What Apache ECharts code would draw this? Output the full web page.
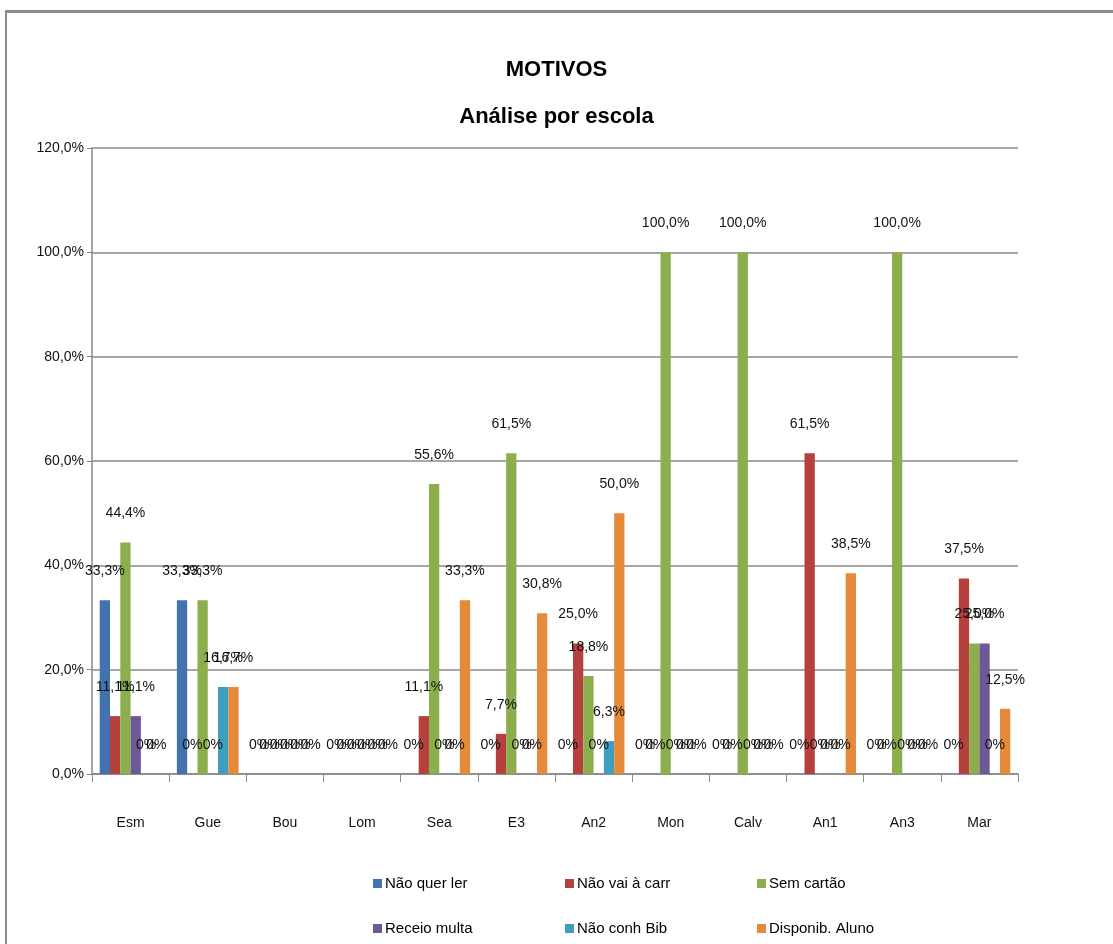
<!DOCTYPE html>
<html><head><meta charset="utf-8">
<script src="https://cdn.jsdelivr.net/npm/echarts@6/dist/echarts.min.js"></script>
<style>
html,body{margin:0;padding:0;background:#fff;}
#frame{position:absolute;left:5px;top:10px;width:1120px;height:950px;border-top:3px solid #8c8c8c;border-left:2px solid #8c8c8c;}
#c{position:absolute;left:0;top:0;width:1113px;height:944px;}
</style></head>
<body>
<div id="frame"></div>
<div id="c"></div>
<script>
const categories = ['Esm','Gue','Bou','Lom','Sea','E3','An2','Mon','Calv','An1','An3','Mar'];
const seriesNames = ['Não quer ler','Não vai à carr','Sem cartão','Receio multa','Não conh Bib','Disponib. Aluno'];
const naoQuerLer   = [33.3, 33.3, 0, 0, 0,    0,    0,    0,   0,   0,    0,   0];
const naoVaiCarr   = [11.1, 0,    0, 0, 11.1, 7.7,  25.0, 0,   0,   61.5, 0,   37.5];
const semCartao    = [44.4, 33.3, 0, 0, 55.6, 61.5, 18.8, 100, 100, 0,    100, 25.0];
const receioMulta  = [11.1, 0,    0, 0, 0,    0,    0,    0,   0,   0,    0,   25.0];
const naoConhBib   = [0,    16.7, 0, 0, 0,    0,    6.3,  0,   0,   0,    0,   0];
const disponibAluno= [0,    16.7, 0, 0, 33.3, 30.8, 50.0, 0,   0,   38.5, 0,   12.5];
const yTicks = [0,20,40,60,80,100,120];

const values = [naoQuerLer, naoVaiCarr, semCartao, receioMulta, naoConhBib, disponibAluno];
const colors = ['#4272b0','#b5403d','#8cae4c','#6f5896','#3d9fbd','#e58a3a'];
const font = '"Liberation Sans Narrow","Liberation Sans",sans-serif';

const chart = echarts.init(document.getElementById('c'));
const legendPos = [[368,871],[560,871],[752,871],[368,916],[560,916],[752,916]];
chart.setOption({
  backgroundColor: 'transparent',
  animation: false,
  title: [
    {text:'MOTIVOS', left:'center', top:54, textStyle:{fontSize:22, fontWeight:'bold', fontFamily:font, color:'#000'}},
    {text:'Análise por escola', left:'center', top:101, textStyle:{fontSize:22, fontWeight:'bold', fontFamily:font, color:'#000'}}
  ],
  legend: seriesNames.map((n,i)=>({
    data:[n], left:legendPos[i][0], top:legendPos[i][1], itemWidth:9, itemHeight:9, icon:'rect', itemGap:4,
    textStyle:{fontSize:15, fontFamily:font, color:'#000', padding:[0,0,0,-2]}
  })),
  grid:{left:92, right:95, top:148, bottom:170},
  xAxis:{
    type:'category', data:categories,
    axisLine:{lineStyle:{color:'#888', width:1.5}},
    axisTick:{show:true, length:8, lineStyle:{color:'#888'}},
    axisLabel:{margin:42, fontSize:14, fontFamily:font, color:'#111'}
  },
  yAxis:{
    type:'value', min:0, max:120, interval:20,
    axisLine:{show:true, lineStyle:{color:'#888', width:1.5}},
    axisTick:{show:true, length:5, lineStyle:{color:'#888'}},
    splitLine:{lineStyle:{color:'#8a8a8a', width:1.5}},
    axisLabel:{fontSize:14, fontFamily:font, color:'#111', margin:8,
      formatter:v=>v.toFixed(1).replace('.',',')+'%'}
  },
  series: seriesNames.map((n,i)=>({
    name:n, type:'bar', data:values[i], barGap:'0%', barCategoryGap:'20%',
    itemStyle:{color:colors[i]},
    label:{show:true, position:'top', distance:22, fontSize:14, fontFamily:font, color:'#111',
      formatter:p=>p.value===0?'0%':p.value.toFixed(1).replace('.',',')+'%'}
  }))
});
</script>
</body></html>
